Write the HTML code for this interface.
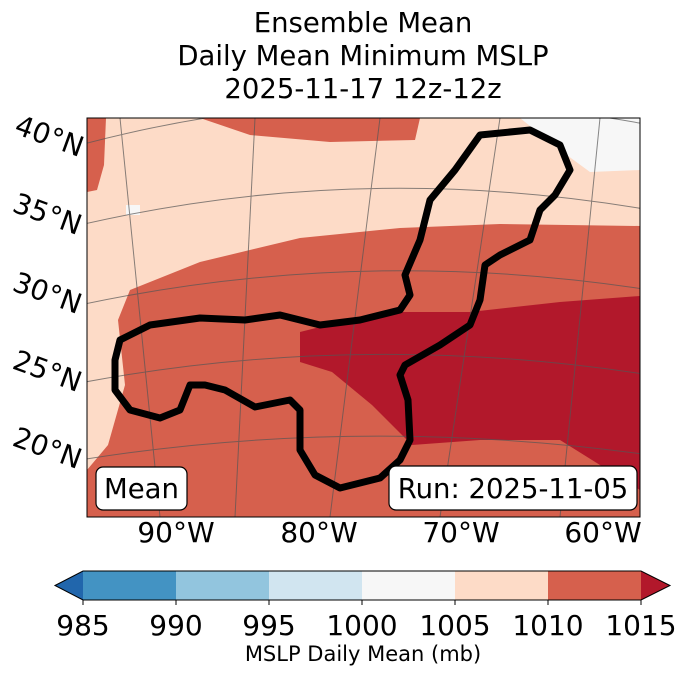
<!DOCTYPE html>
<html><head><meta charset="utf-8"><style>
body{margin:0;background:#fff;}
svg{display:block;font-family:"DejaVu Sans","Liberation Sans",sans-serif;}
</style></head><body>
<svg id="chart" width="688" height="674" viewBox="0 0 688 674">
  <g font-size="27.5" text-anchor="middle" fill="#000">
    <text x="363" y="32">Ensemble Mean</text>
    <text x="363" y="65">Daily Mean Minimum MSLP</text>
    <text x="363" y="98">2025-11-17 12z-12z</text>
  </g>
  <defs><clipPath id="mapclip"><rect x="87" y="118" width="553" height="399"/></clipPath></defs>
  <g clip-path="url(#mapclip)">
    <rect x="87" y="118" width="553" height="399" fill="#fddbc7"/>
    <polygon fill="#d6604d" points="130,290 200,262 300,238 400,228 500,224 640,226 640,517 87,517 87,470 108,445 125,385 118,320"/>
    <polygon fill="#d6604d" points="87,118 106,118 104,165 97,190 87,192"/>
    <polygon fill="#d6604d" points="200,118 420,118 415,140 330,142 250,135"/>
    <polygon fill="#b2182b" points="300,332 380,312 470,312 560,302 640,296 640,490 560,440 480,440 412,445 372,405 332,372 300,362"/>
    <polygon fill="#f7f7f7" points="520,118 640,118 640,170 590,172 560,150"/>
    <rect x="126" y="205" width="14" height="10" fill="#f7f7f7"/>
    <g stroke="#555" stroke-width="1" fill="none" opacity="0.7">
      <path d="M80,145 Q360,70 650,125"/>
      <path d="M80,225 Q360,160 650,210"/>
      <path d="M80,305 Q360,245 650,290"/>
      <path d="M80,383 Q360,330 650,375"/>
      <path d="M80,460 Q360,415 650,455"/>
      <path d="M120,118 L160,517"/>
      <path d="M255,118 L235,517"/>
      <path d="M380,118 L330,517"/>
      <path d="M500,118 L440,517"/>
      <path d="M600,118 L560,517"/>
    </g>
    <path fill="none" stroke="#000" stroke-width="7" stroke-linejoin="round" d="M115,360 L120,340 L150,325 L200,318 L245,320 L280,315 L320,325 L360,320 L400,310 L410,295 L405,275 L420,240 L430,200 L455,170 L480,135 L530,130 L560,145 L570,170 L555,195 L540,210 L530,240 L500,255 L485,265 L480,300 L470,325 L440,345 L405,365 L400,375 L408,400 L410,440 L400,460 L380,478 L340,488 L315,475 L300,450 L300,410 L290,400 L255,407 L225,390 L205,385 L190,385 L180,410 L160,418 L130,410 L115,390 Z"/>
  </g>
  <rect x="87" y="118" width="553" height="399" fill="none" stroke="#000" stroke-width="1"/>
  <g font-size="28" fill="#000">
    <text transform="translate(13,133) rotate(20)">40°N</text>
    <text transform="translate(11,211) rotate(20)">35°N</text>
    <text transform="translate(11,290) rotate(20)">30°N</text>
    <text transform="translate(11,368) rotate(20)">25°N</text>
    <text transform="translate(11,445) rotate(20)">20°N</text>
  </g>
  <g font-size="28" fill="#000" text-anchor="middle">
    <text x="176" y="542">90°W</text>
    <text x="319" y="542">80°W</text>
    <text x="461" y="542">70°W</text>
    <text x="603" y="542">60°W</text>
  </g>
  <g>
    <rect x="96" y="467" width="91" height="43" rx="7" fill="#fff" stroke="#000" stroke-width="1.2"/>
    <text x="141.5" y="498" font-size="27.5" text-anchor="middle">Mean</text>
  </g>
  <g>
    <rect x="389" y="466" width="248" height="44" rx="7" fill="#fff" stroke="#000" stroke-width="1.2"/>
    <text x="513" y="498" font-size="27.5" text-anchor="middle">Run: 2025-11-05</text>
  </g>
  <g id="colorbar"></g>
  <text x="363" y="661" font-size="21" text-anchor="middle">MSLP Daily Mean (mb)</text>
</svg>
<script>
const levels = [985, 990, 995, 1000, 1005, 1010, 1015];
const binColors = ["#4393c3", "#92c5de", "#d1e5f0", "#f7f7f7", "#fddbc7", "#d6604d"];
const underColor = "#2166ac";
const overColor = "#b2182b";
const NS = "http://www.w3.org/2000/svg";
const cb = document.getElementById('colorbar');
const x0 = 83, x1 = 641, y0 = 571, y1 = 600;
const xs = v => x0 + (v - levels[0]) / (levels[levels.length-1] - levels[0]) * (x1 - x0);
function mk(tag, attrs){const e=document.createElementNS(NS,tag);for(const k in attrs)e.setAttribute(k,attrs[k]);cb.appendChild(e);return e;}
let t = mk('polygon',{points:`${x0},${y0} ${x0},${y1} 55,${(y0+y1)/2}`,fill:underColor});


for (let i=0;i<binColors.length;i++){
  const r = mk('rect',{x:xs(levels[i]),y:y0,width:xs(levels[i+1])-xs(levels[i]),height:y1-y0,fill:binColors[i]});
  
  
}
t = mk('polygon',{points:`${x1},${y0} ${x1},${y1} 670,${(y0+y1)/2}`,fill:overColor});


const o = mk('polygon',{points:`55,${(y0+y1)/2} ${x0},${y0} ${x1},${y0} 670,${(y0+y1)/2} ${x1},${y1} ${x0},${y1}`,fill:'none',stroke:'#000','stroke-width':1});


levels.forEach(v=>{
  mk('line',{x1:xs(v),x2:xs(v),y1:y1,y2:y1+5,stroke:'#000'});
  const tx = mk('text',{x:xs(v),y:635,'font-size':28,'text-anchor':'middle'});
  tx.textContent = v;
  
  
});
</script>
</body></html>
